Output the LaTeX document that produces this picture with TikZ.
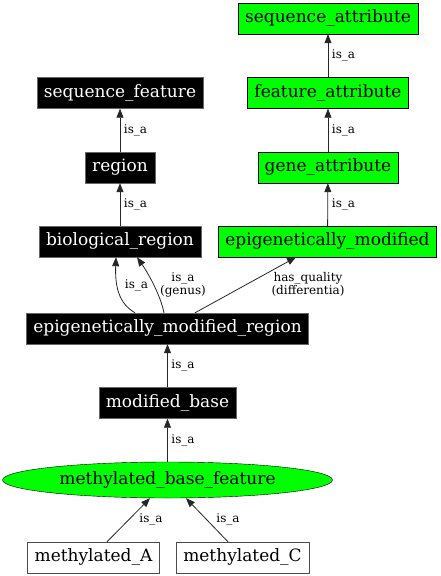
\documentclass[tikz,border=0pt]{standalone}
\usepackage{fontspec}
\setmainfont{DejaVu Serif}
\usetikzlibrary{arrows.meta,shapes.geometric}
\definecolor{nodegreen}{RGB}{0,255,0}
\begin{document}
\begin{tikzpicture}[x=1pt,y=-1pt,
	blackbox/.style={fill=black,draw=black!60,text=white,minimum height=31pt,inner xsep=7pt,font=\fontsize{17}{20}\selectfont},
	greenbox/.style={fill=nodegreen,draw=black,minimum height=31pt,inner xsep=7pt,font=\fontsize{17}{20}\selectfont},
	whitebox/.style={fill=white,draw=black!70,minimum height=31pt,inner xsep=7pt,font=\fontsize{17}{20}\selectfont},
	edge/.style={draw=black!85,line width=0.8pt,-{Triangle[length=9pt,width=7pt]}},
	lbl/.style={inner sep=0pt,align=center,font=\fontsize{12}{13}\selectfont}]
	   \useasboundingbox (0,0) rectangle (441,576);
	   % right column
	   \node [greenbox] (seqattr) at (328,18.5) {sequence\_attribute};
	   \node [greenbox] (featattr) at (328,93) {feature\_attribute};
	   \node [greenbox] (geneattr) at (328,167.5) {gene\_attribute};
	   \node [greenbox] (epimod) at (327.5,241.5) {epigenetically\_modified};
	   % left column
	   \node [blackbox] (seqfeat) at (120,93) {sequence\_feature};
	   \node [blackbox] (region) at (120,167.5) {region};
	   \node [blackbox] (bioreg) at (120,241.5) {biological\_region};
	   \node [blackbox] (emr) at (167.5,328.5) {epigenetically\_modified\_region};
	   \node [blackbox] (modbase) at (167.5,403) {modified\_base};
	   \node [ellipse,fill=nodegreen,draw=black,minimum width=330pt,minimum height=36pt,inner sep=0pt,font=\fontsize{17}{20}\selectfont] (mbf) at (167.5,480) {methylated\_base\_feature};
	   \node [whitebox] (methA) at (93.5,557.5) {methylated\_A};
	   \node [whitebox] (methC) at (242.5,557.5) {methylated\_C};
	   % edges
	   \draw [edge] (featattr) -- (seqattr);
	   \draw [edge] (geneattr) -- (featattr);
	   \draw [edge] (epimod) -- (geneattr);
	   \draw [edge] (region) -- (seqfeat);
	   \draw [edge] (bioreg) -- (region);
	   \draw [edge] ([xshift=-32.5pt]emr.north) .. controls (118,303) and (115,285) .. ([xshift=-4pt]bioreg.south);
	   \draw [edge] ([xshift=-3.5pt]emr.north) .. controls (160,293) and (146,270) .. ([xshift=17pt]bioreg.south);
	   \draw [edge] ([xshift=27.5pt]emr.north) -- ([xshift=-31.5pt]epimod.south);
	   \draw [edge] (modbase) -- (emr);
	   \draw [edge] (mbf) -- (modbase);
	   \draw [edge] ([xshift=13.5pt]methA.north) -- ([xshift=-17.5pt]mbf.south);
	   \draw [edge] ([xshift=-14.5pt]methC.north) -- ([xshift=18.5pt]mbf.south);
	   % labels
	   \node [lbl] (l1) at (343.5,55) {is\_a};
	   \node [lbl] (l2) at (343.5,130) {is\_a};
	   \node [lbl] (l3) at (343.5,204) {is\_a};
	   \node [lbl] (l4) at (135.5,130) {is\_a};
	   \node [lbl] (l5) at (135.5,204) {is\_a};
	   \node [lbl] (l6) at (136.5,285) {is\_a};
	   \node [lbl] (l7) at (183,284.5) {is\_a\\(genus)};
	   \node [lbl] (l8) at (308,284.5) {has\_quality\\(differentia)};
	   \node [lbl] (l9) at (183,365) {is\_a};
	   \node [lbl] (l10) at (183,440) {is\_a};
	   \node [lbl] (l11) at (151,519) {is\_a};
	   \node [lbl] (l12) at (228,519) {is\_a};
\end{tikzpicture}
\end{document}
